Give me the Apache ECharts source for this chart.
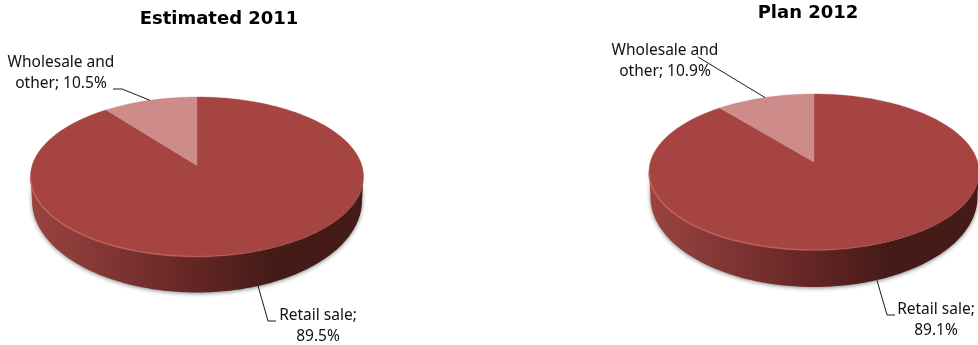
<!DOCTYPE html>
<html>
<head>
<meta charset="utf-8">
<style>html,body{margin:0;padding:0;background:#fff}#chart{width:978px;height:345px}</style>
<script src="https://cdn.jsdelivr.net/npm/echarts@6/dist/echarts.min.js"></script>
</head>
<body>
<div id="chart"></div>
<script>
// Revenue structure by channel, share in percent
const categories = ['Retail sale', 'Wholesale and other'];
const valuesEstimated2011 = [89.5, 10.5];
const valuesPlan2012 = [89.1, 10.9];
const chartTitles = ['Estimated 2011', 'Plan 2012'];
const labelPrefixes = ['Retail sale;\n', 'Wholesale and\nother; '];

const LABEL_FONT = '"Noto Sans", sans-serif';
const TITLE_FONT = '"DejaVu Sans", sans-serif';
const TOP_COLORS = ['#A64441', '#CD8C8A'];

// Perspective disc: each entry is the layout of one tilted pie.
// back/front are the screen distances from the disc centre to its edge;
// base describes the lower rim of the pie wall in the same way.
const pies = [
  {
    values: valuesEstimated2011, cx: 197, cy: 165.5, rx: 166.5, back: 68.5, front: 91,
    base: { cy: 187.5, rx: 165, back: 79, front: 105 },
    labels: [
      { x: 318, y: 326.5, elbow: [[268, 321], [276, 321]], onWall: true },
      { x: 61, y: 73.5, elbow: [[122, 89], [113, 89]], onWall: false }
    ]
  },
  {
    values: valuesPlan2012, cx: 814, cy: 162, rx: 165, back: 68, front: 88,
    base: { cy: 184, rx: 163.5, back: 77, front: 103 },
    labels: [
      { x: 936, y: 320.5, elbow: [[887, 315], [895, 315]], onWall: true },
      { x: 665, y: 61.5, elbow: [[698, 57]], onWall: false }
    ]
  }
];

// Maps a clockwise angle from twelve o'clock to a point on a tilted disc edge.
function projector(cx, disc) {
  const B = 2 / (1 / disc.back + 1 / disc.front);
  const p = B / disc.back - 1;
  const A = disc.rx * Math.sqrt(1 - p * p);
  return {
    p,
    at(theta) {
      const w = 1 + p * Math.cos(theta);
      return [cx + A * Math.sin(theta) / w, disc.cy - B * Math.cos(theta) / w];
    }
  };
}

function arc(proj, from, to) {
  const n = Math.max(2, Math.ceil(Math.abs(to - from) / (Math.PI / 180)));
  const out = [];
  for (let i = 0; i <= n; i++) out.push(proj.at(from + (to - from) * i / n));
  return out;
}

function sliceAngles(values, index) {
  const total = values.reduce((a, b) => a + b, 0);
  let before = 0;
  for (let i = 0; i < index; i++) before += values[i];
  return [before / total * Math.PI * 2, (before + values[index]) / total * Math.PI * 2];
}

// Part of a slice's rim that faces the viewer, or null when it is all at the back.
function frontRange(proj, start, end) {
  const left = Math.acos(-proj.p);
  const a = Math.max(start, left);
  const b = Math.min(end, Math.PI * 2 - left);
  return a < b ? [a, b] : null;
}

function wallSeries(pie) {
  const proj = projector(pie.cx, pie);
  const baseProj = projector(pie.cx, pie.base);
  return {
    type: 'custom', coordinateSystem: 'none', silent: true, z: 1, animation: false,
    data: pie.values,
    renderItem(params) {
      const [s, e] = sliceAngles(pie.values, params.dataIndex);
      const range = frontRange(proj, s, e);
      if (!range) return { type: 'group', children: [] };
      const upper = arc(proj, range[0], range[1]);
      const lower = arc(baseProj, range[1], range[0]);
      return {
        type: 'polygon',
        shape: { points: upper.concat(lower) },
        style: {
          fill: {
            type: 'linear', global: true,
            x: pie.cx - pie.rx, y: 0, x2: pie.cx + pie.rx, y2: 0,
            colorStops: [
              { offset: 0, color: '#9A4340' },
              { offset: 0.22, color: '#823735' },
              { offset: 0.5, color: '#632524' },
              { offset: 0.72, color: '#451B18' },
              { offset: 1, color: '#451B18' }
            ]
          },
          shadowColor: 'rgba(50,60,60,0.6)', shadowBlur: 4, shadowOffsetX: 0, shadowOffsetY: 1
        }
      };
    }
  };
}

function topSeries(pie) {
  const proj = projector(pie.cx, pie);
  return {
    type: 'custom', coordinateSystem: 'none', silent: true, z: 2, animation: false,
    data: pie.values,
    renderItem(params) {
      const i = params.dataIndex;
      const [s, e] = sliceAngles(pie.values, i);
      const children = [{
        type: 'polygon',
        shape: { points: [[pie.cx, pie.cy]].concat(arc(proj, s, e)) },
        style: { fill: TOP_COLORS[i], stroke: TOP_COLORS[i], lineWidth: 0.4 }
      }];
      const range = frontRange(proj, s, e);
      if (range) {
        // pale highlight along the front edge of the disc, fading to the right
        children.push({
          type: 'polyline',
          shape: { points: arc(proj, range[0] + 0.2, range[1]) },
          style: {
            fill: null, lineWidth: 1.6,
            stroke: {
              type: 'linear', global: true,
              x: pie.cx - pie.rx, y: 0, x2: pie.cx + pie.rx, y2: 0,
              colorStops: [
                { offset: 0, color: 'rgba(205,100,94,0.8)' },
                { offset: 0.5, color: 'rgba(205,100,94,0.6)' },
                { offset: 0.72, color: 'rgba(205,100,94,0)' },
                { offset: 1, color: 'rgba(205,100,94,0)' }
              ]
            }
          }
        });
      }
      return { type: 'group', children };
    }
  };
}

function labelSeries(pie) {
  const proj = projector(pie.cx, pie);
  const baseProj = projector(pie.cx, pie.base);
  return {
    type: 'custom', coordinateSystem: 'none', silent: true, z: 3, animation: false,
    data: pie.values,
    renderItem(params) {
      const i = params.dataIndex;
      const [s, e] = sliceAngles(pie.values, i);
      const layout = pie.labels[i];
      const anchor = (layout.onWall ? baseProj : proj).at((s + e) / 2);
      return {
        type: 'group',
        children: [
          {
            type: 'polyline',
            shape: { points: [anchor].concat(layout.elbow) },
            style: { fill: null, stroke: '#1a1a1a', lineWidth: 1 }
          },
          {
            type: 'text', x: layout.x, y: layout.y,
            style: {
              text: labelPrefixes[i] + pie.values[i].toFixed(1) + '%',
              font: '15.5px ' + LABEL_FONT, fill: '#111', align: 'center', verticalAlign: 'middle', lineHeight: 21
            }
          }
        ]
      };
    }
  };
}

const titleStyle = { fontFamily: TITLE_FONT, fontSize: 18, fontWeight: 'bold', color: '#000' };
const chart = echarts.init(document.getElementById('chart'), null, { renderer: 'canvas' });
chart.setOption({
  animation: false,
  backgroundColor: '#fff',
  title: [
    { text: chartTitles[0], left: 219, top: 10, textAlign: 'center', textStyle: titleStyle, padding: 0 },
    { text: chartTitles[1], left: 808, top: 4, textAlign: 'center', textStyle: titleStyle, padding: 0 }
  ],
  series: pies.flatMap(p => [wallSeries(p), topSeries(p), labelSeries(p)])
});
</script>
</body>
</html>
